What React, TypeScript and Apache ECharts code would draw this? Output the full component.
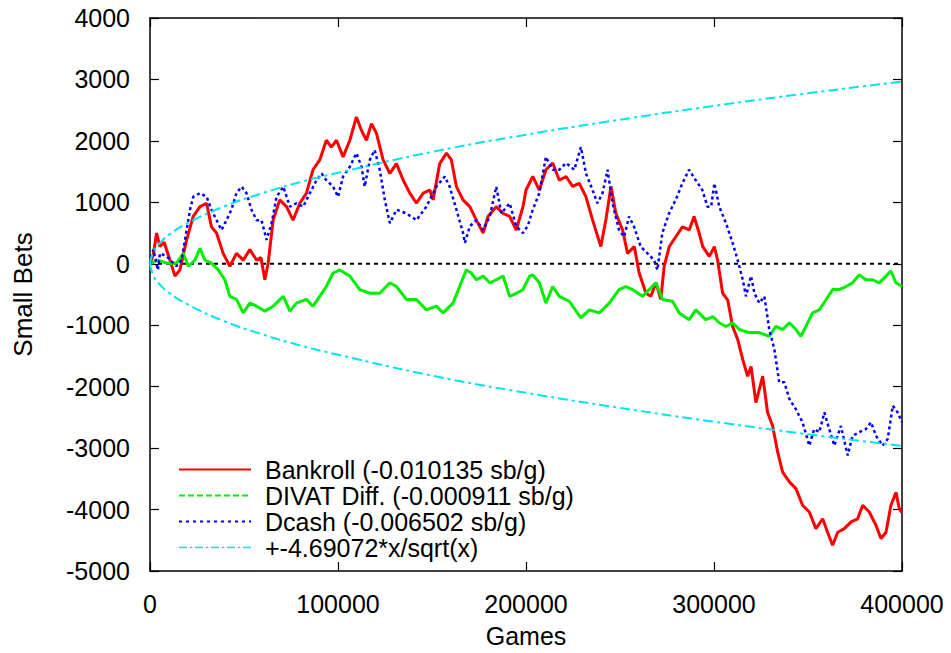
import React, { useEffect, useRef } from "react";
import * as echarts from "echarts";

const FONT = '"Liberation Sans", Arial, Helvetica, sans-serif';

const xTicks = [0, 100000, 200000, 300000, 400000];
const yTicks = [-5000, -4000, -3000, -2000, -1000, 0, 1000, 2000, 3000, 4000];

const legendNames = [
  "Bankroll (-0.010135 sb/g)",
  "DIVAT Diff. (-0.000911 sb/g)",
  "Dcash (-0.006502 sb/g)",
  "+-4.69072*x/sqrt(x)",
];

const bankroll: [number, number][] = [
  [0, 0], [1800, 150], [3500, 500], [5300, 280], [7500, 350], [10600, 60], [13300, -200], [15900, -100],
  [19500, 390], [23000, 770], [26600, 930], [30100, 985], [32700, 600], [35400, 500], [38900, 170],
  [42500, -40], [46000, 170], [49600, 60], [53100, 230], [56700, 60], [59000, 100], [61100, -260],
  [62800, 0], [65500, 710], [69000, 1040], [72600, 930], [76100, 710], [79700, 985], [83200, 1150],
  [86700, 1530], [90300, 1690], [93800, 2010], [96500, 1900], [99200, 2010], [102700, 1740],
  [106300, 2010], [109800, 2390], [112500, 2170], [115100, 2010], [117800, 2280], [120500, 2120],
  [124000, 1690], [127600, 1470], [131100, 1630], [134700, 1360], [138200, 1150], [141700, 985],
  [145300, 1150], [148800, 1200], [150600, 1040], [154100, 1630], [157700, 1800], [160300, 1690],
  [163000, 1255], [166500, 1040], [170100, 930], [173600, 710], [177200, 500], [179800, 770],
  [184200, 930], [187800, 820], [191300, 770], [194800, 550], [198400, 930], [200000, 1200],
  [203600, 1420], [207100, 1200], [210600, 1530], [214200, 1640], [217700, 1360], [221300, 1420],
  [224800, 1260], [228300, 1310], [231900, 1090], [235400, 715], [239800, 280], [242500, 715],
  [245200, 1260], [247800, 820], [251400, 550], [254000, 170], [257600, 280], [260200, -150],
  [263800, -480], [266400, -530], [269100, -310], [271700, -580], [273500, -40], [276200, 280],
  [279700, 440], [283200, 600], [286800, 550], [289400, 770], [292100, 500], [294000, 280],
  [297500, 120], [300200, 280], [301900, 60], [304600, -480], [307300, -590], [309900, -1020],
  [312600, -1230], [315300, -1560], [317900, -1830], [319700, -1670], [322300, -2260], [325900, -1830],
  [328500, -2420], [331200, -2640], [333900, -3070], [336500, -3390], [340100, -3550], [343600, -3660],
  [347100, -3930], [350700, -4040], [354200, -4310], [357800, -4150], [360400, -4370], [363100, -4580],
  [365800, -4370], [369300, -4310], [372900, -4200], [376400, -4150], [379100, -3930], [382600, -4040],
  [386200, -4260], [388800, -4470], [391500, -4370], [394100, -3930], [396800, -3720], [398600, -3990],
  [400000, -4050],
];

const divat: [number, number][] = [
  [0, 0], [4000, 60], [8900, 10], [14100, 10], [17700, 170], [20400, -40], [23900, 60], [26600, 250],
  [29200, 60], [32700, 10], [36300, -100], [39800, -260], [42500, -530], [46000, -580], [49600, -800],
  [53100, -640], [56700, -690], [61100, -770], [65500, -690], [70900, -530], [74400, -770], [77900, -640],
  [83200, -580], [86700, -690], [90300, -530], [93800, -370], [97400, -150], [100900, -100],
  [106300, -200], [111600, -420], [116900, -480], [122200, -480], [127600, -310], [131100, -370],
  [136400, -580], [141700, -580], [147000, -750], [152300, -690], [155900, -800], [161200, -640],
  [164700, -370], [168300, -100], [170900, -150], [173600, -260], [177200, -200], [180700, -310],
  [184200, -260], [187800, -200], [191300, -530], [194800, -480], [198400, -420], [201900, -200],
  [203600, -180], [207100, -310], [210600, -640], [214200, -370], [217700, -530], [223000, -610],
  [229200, -880], [233700, -750], [239000, -800], [244300, -640], [249500, -420], [253100, -370],
  [256600, -420], [262000, -530], [265500, -420], [269100, -310], [272600, -580], [277900, -610],
  [281500, -800], [286800, -910], [290300, -750], [295600, -910], [299400, -860], [302800, -960],
  [306400, -1020], [309900, -960], [313500, -1070], [318800, -1120], [324100, -1120], [329400, -1180],
  [332900, -1020], [336500, -1070], [340100, -960], [343600, -1070], [346200, -1180], [348900, -1020],
  [352400, -800], [356000, -750], [359500, -590], [363100, -420], [366600, -420], [370200, -370],
  [373700, -310], [377300, -180], [380800, -260], [384300, -260], [387900, -310], [391500, -200],
  [394100, -120], [396800, -310], [400000, -370],
];

const dcash: [number, number][] = [
  [0, 0], [1800, 230], [4200, -100], [5300, 170], [8900, 120], [14100, -40], [16800, 60], [19500, 550],
  [21300, 880], [23000, 1090], [26600, 1150], [30100, 1090], [32700, 880], [35400, 710], [38000, 550],
  [40700, 710], [43300, 880], [46000, 1150], [48700, 1255], [51300, 1150], [54000, 880], [56700, 710],
  [59300, 710], [62000, 390], [64700, 660], [67300, 1090], [70900, 1255], [74400, 930], [77900, 985],
  [81500, 930], [85000, 1150], [88600, 1360], [91300, 1470], [93800, 1360], [97400, 1255],
  [100000, 1090], [102700, 1420], [106300, 1580], [109800, 1800], [112500, 1580], [114200, 1255],
  [116900, 1690], [119500, 1850], [122200, 1530], [124900, 1040], [127600, 660], [131100, 880],
  [136400, 820], [141700, 710], [147000, 930], [152300, 1255], [156800, 1420], [159400, 1255],
  [163000, 880], [166500, 500], [167500, 340], [170100, 610], [173600, 710], [177200, 550],
  [180700, 770], [184200, 1255], [186900, 820], [191300, 985], [194800, 610], [198400, 500],
  [201000, 620], [203600, 880], [207100, 1150], [210600, 1740], [214200, 1530], [217700, 1530],
  [221300, 1640], [225700, 1530], [229200, 1900], [231900, 1470], [235400, 1200], [238000, 985],
  [240700, 1150], [243400, 1530], [246000, 985], [249500, 550], [252200, 440], [254800, 770],
  [257500, 600], [261000, 280], [264600, 170], [268100, 60], [269900, -100], [272500, 500],
  [276100, 820], [279600, 1040], [283200, 1310], [286700, 1530], [290300, 1360], [293800, 1200],
  [296500, 930], [298500, 930], [300200, 1310], [302800, 930], [306400, 660], [309900, 340],
  [312600, 60], [315300, -260], [317000, -530], [319700, -200], [321500, -480], [324100, -640],
  [326800, -530], [329400, -1070], [332100, -1390], [334700, -1930], [337400, -1930], [340100, -2200],
  [343600, -2370], [347100, -2580], [350700, -2960], [353300, -2690], [356000, -2740], [358700, -2420],
  [361300, -2690], [364000, -2960], [367500, -2640], [371100, -3120], [373700, -2800], [377300, -2740],
  [380800, -2690], [383500, -2580], [386200, -2800], [389700, -2960], [392400, -2850], [395100, -2310],
  [397700, -2420], [400000, -2580],
];

const envelopeUpper: [number, number][] = [
  [0, 0], [2000, 210], [5000, 330], [10000, 470], [20000, 660], [40000, 940], [60000, 1150],
  [80000, 1330], [100000, 1480], [150000, 1820], [200000, 2100], [250000, 2345], [300000, 2570],
  [350000, 2775], [400000, 2965],
];

const envelopeLower: [number, number][] = [
  [0, 0], [2000, -210], [5000, -330], [10000, -470], [20000, -660], [40000, -940], [60000, -1150],
  [80000, -1330], [100000, -1480], [150000, -1820], [200000, -2100], [250000, -2345], [300000, -2570],
  [350000, -2775], [400000, -2965],
];

const zeroLine: [number, number][] = [[0, 0], [400000, 0]];

export default function App() {
  const ref = useRef<HTMLDivElement>(null);

  useEffect(() => {
    const chart = echarts.init(ref.current!, null, { renderer: "svg" });
    const frame = { show: true, onZero: false, lineStyle: { color: "#000", width: 1.5 } };
    const tick = { show: true, inside: true, length: 9, lineStyle: { color: "#000", width: 1.2 } };
    const xMin = xTicks[0];
    const xMax = xTicks[xTicks.length - 1];
    const yMin = yTicks[0];
    const yMax = yTicks[yTicks.length - 1];
    const cyan = "#00e5f0";
    const plain = (v: number) => String(v);

    chart.setOption({
      animation: false,
      backgroundColor: "#fff",
      textStyle: { fontFamily: FONT },
      grid: { left: 150, right: 49, top: 18, bottom: 81, containLabel: false },
      xAxis: [
        {
          type: "value", min: xMin, max: xMax, interval: 100000,
          name: "Games", nameLocation: "middle", nameGap: 52,
          nameTextStyle: { fontSize: 25, color: "#000", fontFamily: FONT },
          axisLine: frame, axisTick: tick, splitLine: { show: false },
          axisLabel: { fontSize: 25, color: "#000", margin: 20, fontFamily: FONT, formatter: plain },
        },
        {
          type: "value", position: "top", min: xMin, max: xMax, interval: 100000,
          axisLine: frame, axisTick: tick, splitLine: { show: false }, axisLabel: { show: false },
        },
      ],
      yAxis: [
        {
          type: "value", min: yMin, max: yMax, interval: 1000,
          name: "Small Bets", nameLocation: "middle", nameGap: 114,
          nameTextStyle: { fontSize: 26, color: "#000", fontFamily: FONT },
          axisLine: frame, axisTick: tick, splitLine: { show: false },
          axisLabel: { fontSize: 25, color: "#000", margin: 20, fontFamily: FONT, formatter: plain },
        },
        {
          type: "value", position: "right", min: yMin, max: yMax, interval: 1000,
          axisLine: frame, axisTick: tick, splitLine: { show: false }, axisLabel: { show: false },
        },
      ],
      legend: {
        orient: "vertical",
        left: 173,
        top: 452,
        itemWidth: 72,
        itemHeight: 14,
        itemGap: 1,
        itemStyle: { opacity: 0 },
        textStyle: {
          fontSize: 25, lineHeight: 25, color: "#000", fontFamily: FONT, padding: [0, 0, 0, 9],
        },
        data: [
          { name: legendNames[0], lineStyle: { width: 2 } },
          { name: legendNames[1], lineStyle: { type: [6, 3], width: 2 } },
          { name: legendNames[2], lineStyle: { type: [3, 4], width: 2 } },
          { name: legendNames[3], lineStyle: { type: [8, 3, 2, 3], width: 1.5 } },
        ],
      },
      series: [
        {
          name: "zero", type: "line", data: zeroLine, symbol: "none", silent: true,
          lineStyle: { color: "#000", width: 2, type: [4, 4] }, z: 1,
        },
        {
          name: legendNames[0], type: "line", data: bankroll, symbol: "none",
          color: "#ff0000", lineStyle: { color: "#ff0000", width: 3 }, z: 2,
        },
        {
          name: legendNames[1], type: "line", data: divat, symbol: "none",
          color: "#00ee00", lineStyle: { color: "#00ee00", width: 3 }, z: 3,
        },
        {
          name: legendNames[2], type: "line", data: dcash, symbol: "none",
          color: "#0000ff", lineStyle: { color: "#0000ff", width: 2.5, type: [3, 3] }, z: 4,
        },
        {
          name: legendNames[3], type: "line", data: envelopeUpper, symbol: "none", smooth: true,
          color: cyan, lineStyle: { color: cyan, width: 2, type: [10, 4, 3, 4] }, z: 5,
        },
        {
          name: legendNames[3], type: "line", data: envelopeLower, symbol: "none", smooth: true,
          color: cyan, lineStyle: { color: cyan, width: 2, type: [10, 4, 3, 4] }, z: 5,
        },
      ],
    });
    return () => chart.dispose();
  }, []);

  return (
    <div
      ref={ref}
      style={{ position: "absolute", left: 0, top: 0, width: 951, height: 653, background: "#fff" }}
    />
  );
}
